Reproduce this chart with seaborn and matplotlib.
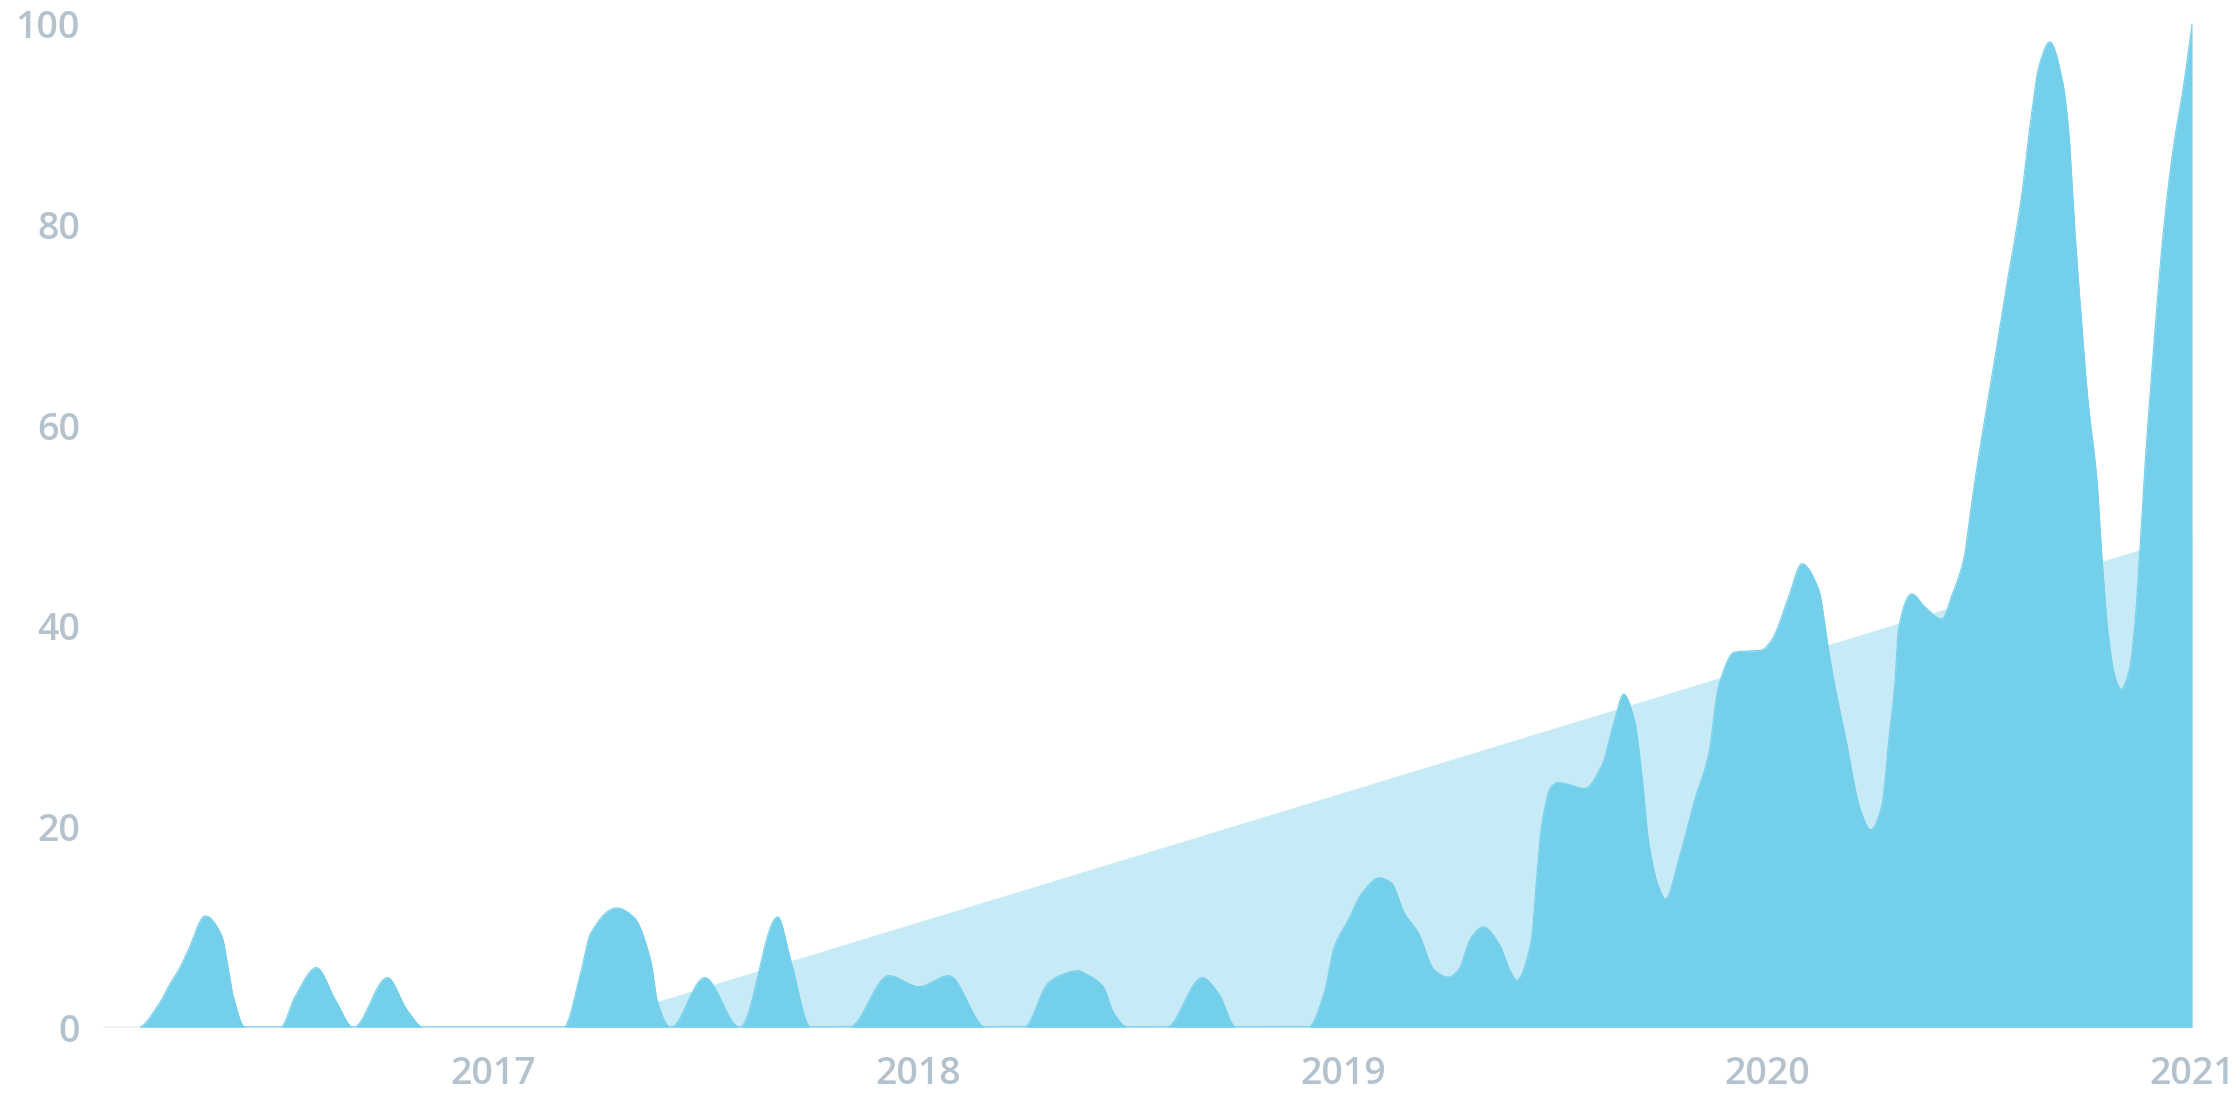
import numpy as np
import pandas as pd
import matplotlib
matplotlib.use("Agg")
import matplotlib.pyplot as plt
import seaborn as sns

# -----------------------------
# DATA
# -----------------------------
# activity series, x in decimal years
years = [
    2016.085, 2016.163, 2016.210, 2016.239, 2016.262, 2016.281, 2016.321, 2016.361,
    2016.373, 2016.387, 2016.415, 2016.498, 2016.533, 2016.583, 2016.628, 2016.670,
    2016.750, 2016.797, 2016.835, 2017.165, 2017.205, 2017.229, 2017.290, 2017.330,
    2017.370, 2017.387, 2017.417, 2017.497, 2017.580, 2017.669, 2017.700, 2017.747,
    2017.837, 2017.931, 2018.002, 2018.072, 2018.160, 2018.249, 2018.306, 2018.336,
    2018.377, 2018.391, 2018.435, 2018.461, 2018.494, 2018.584, 2018.669, 2018.707,
    2018.749, 2018.919, 2018.956, 2018.980, 2019.013, 2019.044, 2019.086, 2019.114,
    2019.145, 2019.178, 2019.216, 2019.249, 2019.272, 2019.303, 2019.331, 2019.367,
    2019.397, 2019.409, 2019.444, 2019.456, 2019.468, 2019.491, 2019.508, 2019.539,
    2019.569, 2019.609, 2019.640, 2019.661, 2019.687, 2019.704, 2019.720, 2019.744,
    2019.760, 2019.791, 2019.829, 2019.862, 2019.885, 2019.923, 2019.986, 2020.010,
    2020.050, 2020.081, 2020.121, 2020.144, 2020.159, 2020.182, 2020.222, 2020.243,
    2020.269, 2020.286, 2020.300, 2020.309, 2020.340, 2020.371, 2020.411, 2020.434,
    2020.463, 2020.477, 2020.489, 2020.526, 2020.564, 2020.597, 2020.621, 2020.639,
    2020.665, 2020.696, 2020.710, 2020.722, 2020.736, 2020.755, 2020.776, 2020.788,
    2020.804, 2020.819, 2020.833, 2020.852, 2020.866, 2020.877, 2020.887, 2020.906,
    2020.932, 2020.955, 2020.981, 2021.000,
]
values = [
    0, 0, 2.2, 4.4, 6.0, 7.7, 11.1, 9.0,
    6.4, 3.1, 0, 0, 3.1, 5.95, 2.7, 0,
    4.95, 1.7, 0, 0, 5.4, 9.4, 11.9, 11.0,
    6.7, 2.4, 0, 4.95, 0, 11.0, 6.7, 0,
    0, 5.15, 4.05, 5.15, 0, 0, 4.4, 5.2,
    5.65, 5.4, 4.1, 1.4, 0, 0, 4.95, 3.4,
    0, 0, 3.4, 8.0, 10.7, 13.3, 14.9, 14.4,
    11.4, 9.4, 5.7, 5.0, 5.7, 9.0, 10.0, 8.4,
    5.4, 4.7, 8.7, 14.6, 20.0, 24.0, 24.4, 24.1,
    23.8, 26.0, 30.6, 33.2, 30.6, 25.3, 18.6, 14.0,
    12.8, 16.7, 22.7, 27.3, 34.0, 37.4, 37.6, 38.6,
    42.9, 46.2, 43.6, 37.6, 34.0, 29.3, 21.3, 19.7,
    22.0, 28.7, 34.2, 39.8, 43.2, 41.9, 40.7, 43.0,
    46.8, 51.0, 54.6, 64.2, 74.1, 82.4, 90.7, 95.7,
    98.2, 94.1, 89.1, 80.8, 72.5, 62.5, 54.6, 46.8,
    38.7, 34.9, 33.7, 35.6, 40.5, 47.5, 54.6, 65.8,
    79.1, 87.4, 94.1, 100.0,
]

# linear trend (light area)
trend_years = [2017.186, 2021.0]
trend_values = [0.0, 49.2]

tick_years = [2017, 2018, 2019, 2020, 2021]
tick_labels = ["2017", "2018", "2019", "2020", "2021"]
y_ticks = [0, 20, 40, 60, 80, 100]

DARK = "#74cfeb"
LIGHT = "#c7ebf6"
TEXT = "#b4c2ce"


# monotone cubic (PCHIP) so the area is drawn as a smooth curve
def pchip(x, y, xs):
    x = np.asarray(x, float)
    y = np.asarray(y, float)
    h = np.diff(x)
    d = np.diff(y) / h
    m = np.zeros_like(y)
    for k in range(1, len(x) - 1):
        if d[k - 1] * d[k] > 0:
            w1 = 2 * h[k] + h[k - 1]
            w2 = h[k] + 2 * h[k - 1]
            m[k] = (w1 + w2) / (w1 / d[k - 1] + w2 / d[k])
    m[0] = d[0]
    m[-1] = d[-1]
    idx = np.clip(np.searchsorted(x, xs) - 1, 0, len(x) - 2)
    t = (xs - x[idx]) / h[idx]
    h00 = 2 * t**3 - 3 * t**2 + 1
    h10 = t**3 - 2 * t**2 + t
    h01 = -2 * t**3 + 3 * t**2
    h11 = t**3 - t**2
    return (h00 * y[idx] + h10 * h[idx] * m[idx]
            + h01 * y[idx + 1] + h11 * h[idx] * m[idx + 1])


xs = np.linspace(years[0], years[-1], 6000)
ys = np.clip(pchip(years, values, xs), 0, None)
smooth = pd.DataFrame({"year": xs, "value": ys})
# outline only where the area has height
smooth["edge"] = smooth["value"].where(smooth["value"] > 0.05)
trend = pd.DataFrame({"year": trend_years, "value": trend_values})

# -----------------------------
# PLOT
# -----------------------------
sns.set_theme(style="white")
plt.rcParams["font.family"] = ["Open Sans", "DejaVu Sans"]

fig = plt.figure(figsize=(11.2, 5.6), dpi=200)
ax = fig.add_axes([105 / 2240, 1 - 1027.3 / 1120, (2192 - 105) / 2240, (1027.3 - 24) / 1120])

ax.plot([years[0], years[-1]], [0, 0], color="#eef3f6", lw=0.8, zorder=1)
ax.fill_between(trend["year"], 0, trend["value"], color=LIGHT, lw=0, zorder=2)
ax.fill_between(smooth["year"], 0, smooth["value"], color=DARK, lw=0, zorder=3)
sns.lineplot(data=smooth, x="year", y="edge", color=DARK, lw=0.4, ax=ax, zorder=4)

ax.set_xlim(years[0], years[-1])
ax.set_ylim(0, 100)
ax.set_xticks(tick_years)
ax.set_xticklabels(tick_labels)
ax.set_yticks(y_ticks)
ax.set_xlabel("")
ax.set_ylabel("")
for s in ax.spines.values():
    s.set_visible(False)
ax.tick_params(axis="both", length=0, labelsize=13.5, colors=TEXT)
ax.tick_params(axis="x", pad=10)
ax.tick_params(axis="y", pad=9)
for lab in ax.get_xticklabels() + ax.get_yticklabels():
    lab.set_fontweight("semibold")
for c in ax.collections + ax.lines:
    c.set_clip_on(False)

fig.savefig("out.png", dpi=200, facecolor="white")
